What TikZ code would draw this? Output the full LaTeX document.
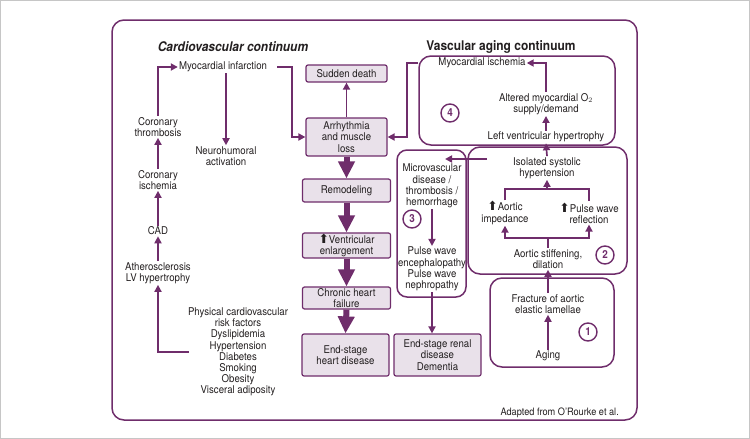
\documentclass[tikz,border=0pt]{standalone}
\usepackage{fontspec}
\setmainfont{TeX Gyre Heros}[FakeStretch=0.9]
\newfontfamily\symfont{DejaVu Sans}
\usetikzlibrary{arrows.meta}
\definecolor{plum}{RGB}{111,45,107}
\definecolor{lilac}{RGB}{233,225,234}
\definecolor{ink}{RGB}{35,31,32}
\newcommand{\upmark}{{\symfont\fontsize{12.5}{11}\selectfont\char"2B06}}

\tikzset{
  plaintext/.style={text=ink, align=center, inner sep=1pt, font=\fontsize{10.7}{11.2}\selectfont},
  stagebox/.style={plaintext, draw=plum, fill=lilac, line width=1.2pt, rounded corners=2pt,
    minimum width=88pt},
  groupbox/.style={draw=plum, line width=1.5pt, rounded corners=12pt},
  numcirc/.style={circle, draw=plum, line width=1.4pt, minimum size=18pt, inner sep=0pt,
    text=plum, font=\bfseries\fontsize{11}{12}\selectfont},
  link/.style={plum, line width=1.7pt, -{Triangle[width=7pt,length=7pt]}},
  plainlink/.style={plum, line width=1.7pt},
  biglink/.style={plum, line width=6pt, -{Triangle[width=16pt,length=17pt]}}
}

\begin{document}
\begin{tikzpicture}[x=1pt, y=-1pt]

    \useasboundingbox (0,0) rectangle (750,439);
    \draw[gray!45, line width=1pt] (0.5,0.5) rectangle (749.5,438.5);
    \draw[groupbox] (112,20) rectangle (637,420);

    \node[text=ink, font=\bfseries\itshape\fontsize{13.3}{15}\selectfont] (cvtitle) at (233,47) {Cardiovascular continuum};
    \node[text=ink, font=\bfseries\fontsize{13.3}{15}\selectfont] (vatitle) at (501,47) {Vascular aging continuum};

    \node[plaintext] (mi) at (223,67) {Myocardial infarction};
    \node[plaintext] (neuro) at (226,156) {Neurohumoral\\activation};
    \node[plaintext] (thromb) at (158,127) {Coronary\\thrombosis};
    \node[plaintext] (isch) at (158,180) {Coronary\\ischemia};
    \node[plaintext] (cad) at (158,231) {CAD};
    \node[plaintext] (athero) at (158,273) {Atherosclerosis\\LV hypertrophy};
    \node[plaintext] (risk) at (238,352) {Physical cardiovascular\\risk factors\\Dyslipidemia\\Hypertension\\Diabetes\\Smoking\\Obesity\\Visceral adiposity};
    \coordinate (riskin) at (189,352);

    \node[stagebox, minimum width=81pt, minimum height=17pt] (sd) at (346.5,73.5) {Sudden death};
    \node[stagebox, minimum width=81pt, minimum height=38pt] (arr) at (346.5,137) {Arrhythmia\\and muscle\\loss};
    \node[stagebox, minimum height=23pt] (remod) at (346.5,190.5) {Remodeling};
    \node[stagebox, minimum height=25pt] (vent) at (346.5,245.5) {\upmark Ventricular\\enlargement};
    \node[stagebox, minimum height=22pt, inner sep=0pt] (chf) at (346.5,298) {Chronic heart\\failure};
    \node[stagebox, minimum width=87pt, minimum height=42pt] (eshd) at (345.5,355) {End-stage\\heart disease};
    \node[stagebox, minimum width=87pt, minimum height=42pt] (esrd) at (437.5,355) {End-stage renal\\disease\\Dementia};

    \node[groupbox, minimum width=196pt, minimum height=89pt] (b4) at (517,100.5) {};
    \node[plaintext] (mis) at (482,63) {Myocardial ischemia};
    \node[plaintext] (alt) at (546,104) {Altered myocardial O$_2$\\supply/demand};
    \node[plaintext] (lvh) at (546,137) {Left ventricular hypertrophy};
    \node[numcirc] (c4) at (450,113) {4};

    \node[groupbox, minimum width=69pt, minimum height=147pt, rounded corners=10pt] (b3) at (431.5,223.5) {};
    \node[plaintext] (micro) at (432,186) {Microvascular\\disease /\\thrombosis /\\hemorrhage};
    \node[numcirc] (c3) at (412,219) {3};
    \node[plaintext] (pwe) at (432,269) {Pulse wave\\encephalopathy\\Pulse wave\\nephropathy};

    \node[groupbox, minimum width=159pt, minimum height=127pt] (b2) at (547.5,210.5) {};
    \node[plaintext] (ish) at (547,168) {Isolated systolic\\hypertension};
    \node[plaintext] (aimp) at (505,213) {\upmark Aortic\\impedance};
    \node[plaintext] (pwr) at (589,213) {\upmark Pulse wave\\reflection};
    \node[plaintext] (ast) at (548,259) {Aortic stiffening,\\dilation};
    \node[numcirc] (c2) at (605,255) {2};
    \coordinate (b2out) at (487,159);
    \coordinate (b3in) at (445,159);

    \node[groupbox, minimum width=124pt, minimum height=89pt] (b1) at (552,322.5) {};
    \node[plaintext] (frac) at (548,304) {Fracture of aortic\\elastic lamellae};
    \node[plaintext] (aging) at (548,356) {Aging};
    \node[numcirc] (c1) at (588,332) {1};

    \node[plaintext, anchor=east, font=\fontsize{10.2}{11}\selectfont] (src) at (620,413) {Adapted from O'Rourke et al.};

    \draw[link] (thromb.north) |- (mi.west);
    \draw[link] ([xshift=9pt]mi.east) -- ++(15,0) |- (arr.west);
    \draw[link] (neuro.north |- mi.south) -- (neuro.north);
    \draw[link] (isch.north) -- (thromb.south);
    \draw[link] (cad.north) -- (isch.south);
    \draw[link] (athero.north) -- (cad.south);
    \draw[link] (riskin) -| (athero.south);

    \draw[link] (arr.north) -- (sd.south);
    \draw[biglink] (arr.south) -- (remod.north);
    \draw[biglink] (remod.south) -- (vent.north);
    \draw[biglink] (vent.south) -- (chf.north);
    \draw[biglink] (chf.south) -- (eshd.north);

    \draw[link] (mis.west -| b4.west) -- ++(-11,0) |- (arr.east);
    \draw[link] (alt.north) |- (mis.east);
    \draw[link] (lvh.north) -- (alt.south);
    \draw[link] (ish.north) -- (lvh.south);

    \draw[link] (b2out) -- (b3in);
    \draw[link] (micro.south) -- (pwe.north);
    \draw[link] (pwe.south) -- (pwe.south |- esrd.north);

    \draw[plainlink] (aimp.north) -- ++(0,-11) coordinate (topbar) -| (pwr.north);
    \draw[link] (topbar -| ish.south) -- (ish.south);
    \draw[plainlink] (ast.north) -- ++(0,-10) coordinate (lowbar);
    \draw[link] (lowbar) -| (aimp.south);
    \draw[link] (lowbar) -| (pwr.south);
    \draw[link] (frac.north) -- (ast.south);
    \draw[link] (aging.north) -- (frac.south);

  \end{tikzpicture}
\end{document}
